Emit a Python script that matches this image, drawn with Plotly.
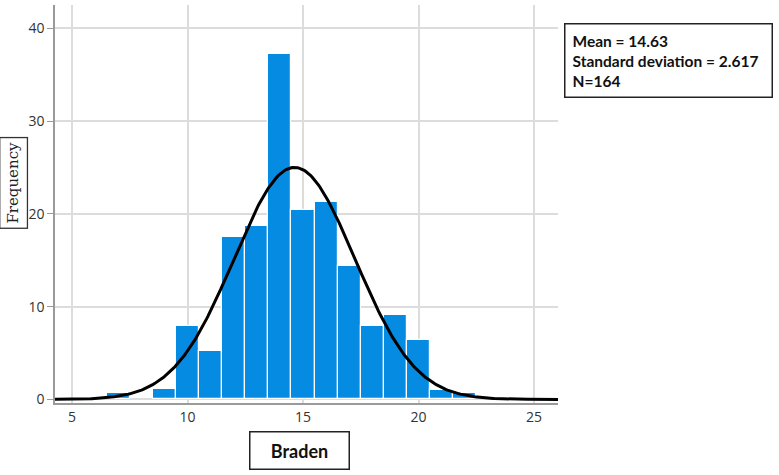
import numpy as np
import plotly.graph_objects as go

# Data
braden_scores = [7, 9, 10, 11, 12, 13, 14, 15, 16, 17, 18, 19, 20, 21, 22]
frequencies = [0.75, 1.1, 7.9, 5.2, 17.5, 18.7, 37.2, 20.4, 21.3, 14.4, 7.9, 9.1, 6.4, 1.0, 0.7]

MEAN = 14.63
SD = 2.617
N = 164
BIN_WIDTH = 1

x_ticks = [5, 10, 15, 20, 25]
y_ticks = [0, 10, 20, 30, 40]

# Fitted normal curve from the stated statistics
curve_x = np.linspace(4.0, 26.5, 400)
curve_y = N * BIN_WIDTH * np.exp(-0.5 * ((curve_x - MEAN) / SD) ** 2) / (SD * np.sqrt(2 * np.pi))

fig = go.Figure()
fig.add_trace(go.Bar(
    x=braden_scores, y=frequencies, width=1,
    marker=dict(color="#068be3", line=dict(color="white", width=1.2)),
    showlegend=False, hoverinfo="x+y",
))
fig.add_trace(go.Scatter(
    x=curve_x, y=curve_y, mode="lines",
    line=dict(color="black", width=3), showlegend=False, hoverinfo="skip",
))

fig.update_layout(
    width=779, height=475,
    margin=dict(l=55, r=221, t=5, b=72),
    paper_bgcolor="white", plot_bgcolor="white",
    bargap=0,
    font=dict(family="Open Sans", color="#333333", size=14),
)
fig.update_xaxes(
    range=[4.26, 26.04], tickvals=x_ticks, ticktext=[str(v) for v in x_ticks],
    showgrid=True, gridcolor="#dcdcdc", gridwidth=1.5,
    showline=True, linecolor="#9a9a9a", linewidth=1.5,
    ticks="", zeroline=False,
    tickfont=dict(family="Open Sans", size=14, color="#333333"),
)
fig.update_yaxes(
    range=[-0.38, 42.5], tickvals=y_ticks, ticktext=[str(v) for v in y_ticks],
    showgrid=True, gridcolor="#dcdcdc", gridwidth=1.5,
    showline=True, linecolor="#9a9a9a", linewidth=1.5,
    ticks="outside", ticklen=6, tickcolor="#9a9a9a", zeroline=False,
    tickfont=dict(family="Open Sans", size=14, color="#333333"),
)

# Axis titles in boxes
fig.add_annotation(
    text="Frequency", xref="paper", yref="paper", x=-0.0815, y=0.553,
    xanchor="center", yanchor="middle", textangle=-90, showarrow=False,
    font=dict(family="DejaVu Serif", size=15, color="#222222"),
    bordercolor="#333333", borderwidth=1.3, borderpad=4, bgcolor="white",
)
fig.add_annotation(
    text="<b>Braden</b>", xref="paper", yref="paper", x=0.487, y=-0.1206,
    xanchor="center", yanchor="middle", showarrow=False,
    font=dict(family="Lato", size=18, color="#111111"),
    bordercolor="#222222", borderwidth=1.5, width=96, height=34, bgcolor="white",
)

# Statistics box
fig.add_annotation(
    text="<b>Mean = 14.63<br>Standard deviation = 2.617<br>N=164</b>",
    xref="paper", yref="paper", x=1.0125, y=0.954,
    xanchor="left", yanchor="top", showarrow=False, align="left",
    font=dict(family="Lato", size=15.5, color="#111111"),
    bordercolor="#222222", borderwidth=1.5, borderpad=7, width=192, bgcolor="white",
)

fig.write_html("out.html")
